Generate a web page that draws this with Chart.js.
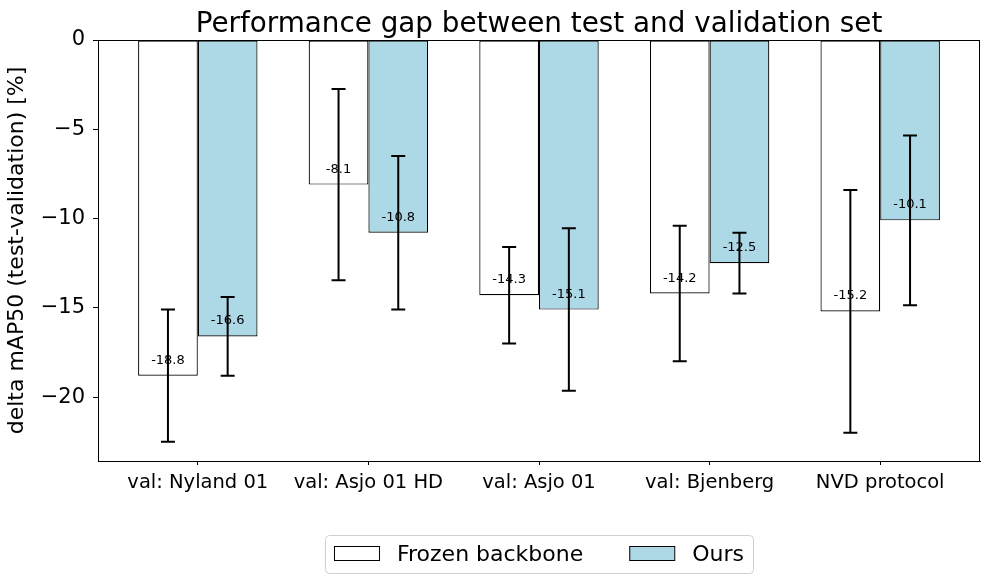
<!DOCTYPE html>
<html>
<head>
<meta charset="utf-8">
<script src="https://cdn.jsdelivr.net/npm/chart.js@4/dist/chart.umd.min.js"></script>
<style>
  html, body { margin: 0; padding: 0; background: #fff; }
  #wrap { width: 989px; height: 583px; }
</style>
</head>
<body>
<div id="wrap"><canvas id="chart" width="989" height="583"></canvas></div>
<script>
// data
let categories = ["val: Nyland 01", "val: Asjo 01 HD", "val: Asjo 01", "val: Bjenberg", "NVD protocol"]
let frozenValues = [-18.8, -8.1, -14.3, -14.2, -15.2]
let frozenErrors = [3.7, 5.35, 2.7, 3.8, 6.8]
let oursValues = [-16.6, -10.8, -15.1, -12.5, -10.1]
let oursErrors = [2.2, 4.3, 4.55, 1.7, 4.75]
let yTicks = [0, -5, -10, -15, -20]
let seriesNames = ["Frozen backbone", "Ours"]
let errorLists = [frozenErrors, oursErrors]

const FONT = "'DejaVu Sans', sans-serif"

// error bars, value labels, frame, title and legend box
const extras = {
  id: "extras",
  afterDatasetsDraw(chart) {
    const ctx = chart.ctx
    const area = chart.chartArea
    const y = chart.scales.y
    ctx.save()
    // frame around the axes
    ctx.strokeStyle = "#000"
    ctx.lineWidth = 1
    ctx.strokeRect(area.left + 0.5, area.top + 0.5, area.right - area.left - 1, area.bottom - area.top)

    chart.data.datasets.forEach((ds, di) => {
      const meta = chart.getDatasetMeta(di)
      meta.data.forEach((bar, i) => {
        const v = ds.data[i].y
        const err = errorLists[di][i]
        const top = y.getPixelForValue(v + err)
        const bot = y.getPixelForValue(v - err)
        ctx.strokeStyle = "#000"
        ctx.lineWidth = 2
        ctx.beginPath()
        ctx.moveTo(bar.x, top); ctx.lineTo(bar.x, bot)
        ctx.moveTo(bar.x - 7, top); ctx.lineTo(bar.x + 7, top)
        ctx.moveTo(bar.x - 7, bot); ctx.lineTo(bar.x + 7, bot)
        ctx.stroke()
        // value label
        ctx.fillStyle = "#000"
        ctx.font = "13px " + FONT
        ctx.textAlign = "center"
        ctx.textBaseline = "alphabetic"
        ctx.fillText(v.toFixed(1), bar.x, y.getPixelForValue(v + 0.5) - 3)
      })
    })

    // title centred over the axes
    ctx.font = "27.8px " + FONT
    ctx.textAlign = "center"
    ctx.fillText("Performance gap between test and validation set", (area.left + area.right) / 2, 32)

    // legend under the axes
    const fills = chart.data.datasets.map(d => d.backgroundColor)
    ctx.font = "22px " + FONT
    const w0 = ctx.measureText(seriesNames[0]).width
    const w1 = ctx.measureText(seriesNames[1]).width
    const patchW = 45, gapText = 18, gapItem = 46, pad = 9
    const total = pad + patchW + gapText + w0 + gapItem + patchW + gapText + w1 + pad
    const cx = (area.left + area.right) / 2
    let lx = cx - total / 2
    ctx.strokeStyle = "#d0d0d0"
    ctx.lineWidth = 1
    ctx.beginPath()
    ctx.roundRect(lx + 0.5, 535.5, total, 38, 4)
    ctx.fillStyle = "#fff"
    ctx.fill()
    ctx.stroke()
    let px = lx + pad
    ;[w0, w1].forEach((w, k) => {
      ctx.fillStyle = fills[k]
      ctx.fillRect(px, 546, patchW, 15)
      ctx.strokeStyle = "#000"
      ctx.strokeRect(px + 0.5, 546.5, patchW, 14)
      ctx.fillStyle = "#000"
      ctx.textAlign = "left"
      ctx.fillText(seriesNames[k], px + patchW + gapText, 561)
      px += patchW + gapText + w + gapItem
    })
    ctx.restore()
  }
}

new Chart("chart", {
  type: "bar",
  data: {
    datasets: [{
      label: seriesNames[0],
      data: frozenValues.map((v, i) => ({ x: i, y: v })),
      backgroundColor: "#ffffff",
      borderColor: "#000000",
      borderWidth: 1.2,
      borderSkipped: false
    }, {
      label: seriesNames[1],
      data: oursValues.map((v, i) => ({ x: i, y: v })),
      backgroundColor: "#add8e6",
      borderColor: "#000000",
      borderWidth: 1.2,
      borderSkipped: false
    }]
  },
  options: {
    responsive: false,
    animation: false,
    categoryPercentage: 0.7,
    barPercentage: 1.0,
    layout: { padding: { left: 0, right: 9, top: 40, bottom: 0 } },
    plugins: {
      legend: { display: false },
      title: { display: false },
      tooltip: { enabled: false }
    },
    scales: {
      x: {
        type: "linear",
        offset: false,
        min: -0.585,
        max: 4.585,
        afterBuildTicks: s => { s.ticks = categories.map((c, i) => ({ value: i })) },
        afterFit: s => { s.height = 122 },
        grid: { offset: false, drawOnChartArea: false, tickLength: 4, tickColor: "#000" },
        border: { color: "#000" },
        ticks: {
          color: "#000",
          padding: 6,
          maxRotation: 0,
          autoSkip: false,
          font: { family: FONT, size: 19.5 },
          callback: v => categories[v]
        }
      },
      y: {
        min: -23.58,
        max: 0,
        afterBuildTicks: s => { s.ticks = yTicks.map(v => ({ value: v })) },
        afterFit: s => { s.width = 98 },
        grid: { drawOnChartArea: false, tickLength: 5, tickColor: "#000" },
        border: { color: "#000" },
        ticks: {
          color: "#000",
          padding: 8,
          font: { family: FONT, size: 21 },
          callback: v => v === 0 ? "0" : "\u2212" + Math.abs(v)
        },
        title: {
          display: true,
          text: "delta mAP50 (test-validation) [%]",
          color: "#000",
          font: { family: FONT, size: 22 },
          padding: { top: 4, bottom: 0 }
        }
      }
    }
  },
  plugins: [extras]
});
</script>
</body>
</html>
